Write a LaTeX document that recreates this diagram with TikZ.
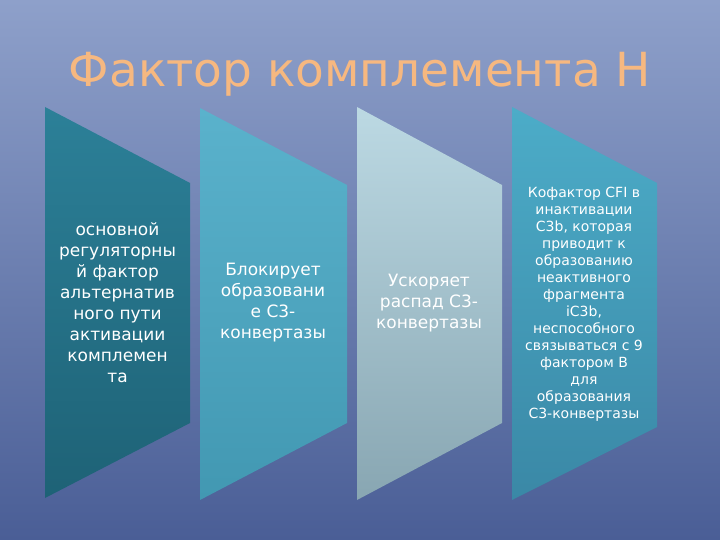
\documentclass[tikz,border=0pt]{standalone}
\usepackage{fontspec}
\setmainfont{DejaVu Sans}
\definecolor{bgtop}{RGB}{142,160,202}
\definecolor{bgbot}{RGB}{74,94,150}
\definecolor{titlec}{RGB}{246,184,128}
\definecolor{aTop}{RGB}{44,128,152}
\definecolor{aBot}{RGB}{30,98,118}
\definecolor{bTop}{RGB}{90,178,204}
\definecolor{bBot}{RGB}{66,152,178}
\definecolor{cTop}{RGB}{188,217,227}
\definecolor{cBot}{RGB}{136,166,178}
\definecolor{dTop}{RGB}{76,172,200}
\definecolor{dBot}{RGB}{58,136,166}
\tikzset{
  txt/.style={text=white, align=center, font=\fontsize{17}{21}\selectfont},
  smalltxt/.style={text=white, align=center, font=\fontsize{14}{17}\selectfont},
}
\begin{document}
\begin{tikzpicture}[x=1pt,y=-1pt]
\useasboundingbox (0,0) rectangle (720,540);
\shade[top color=bgtop, bottom color=bgbot] (0,0) rectangle (720,540);
\node[text=titlec, font=\fontsize{47}{50}\selectfont, anchor=base] (title) at (360,87) {Фактор комплемента Н};
% chevrons
\shade[top color=aTop, bottom color=aBot] (45,107) -- (190,183) -- (190,423) -- (45,498) -- cycle;
\shade[top color=bTop, bottom color=bBot] (200,108) -- (347,185) -- (347,423) -- (200,500) -- cycle;
\shade[top color=cTop, bottom color=cBot] (357,107) -- (502,185) -- (502,423) -- (357,500) -- cycle;
\shade[top color=dTop, bottom color=dBot] (512,107) -- (657,183) -- (657,427) -- (512,500) -- cycle;
\node[txt] (t1) at (117.5,303) {основной\\регуляторны\\й фактор\\альтернатив\\ного пути\\активации\\комплемен\\та};
\node[txt] (t2) at (273,303) {Блокирует\\образовани\\е С3-\\конвертазы};
\node[txt] (t3) at (429,303) {Ускоряет\\распад С3-\\конвертазы};
\node[smalltxt] (t4) at (584,304) {Кофактор CFI в\\инактивации\\C3b, которая\\приводит к\\образованию\\неактивного\\фрагмента\\iC3b,\\неспособного\\связываться с 9\\фактором B\\для\\образования\\C3-конвертазы};
\end{tikzpicture}
\end{document}
